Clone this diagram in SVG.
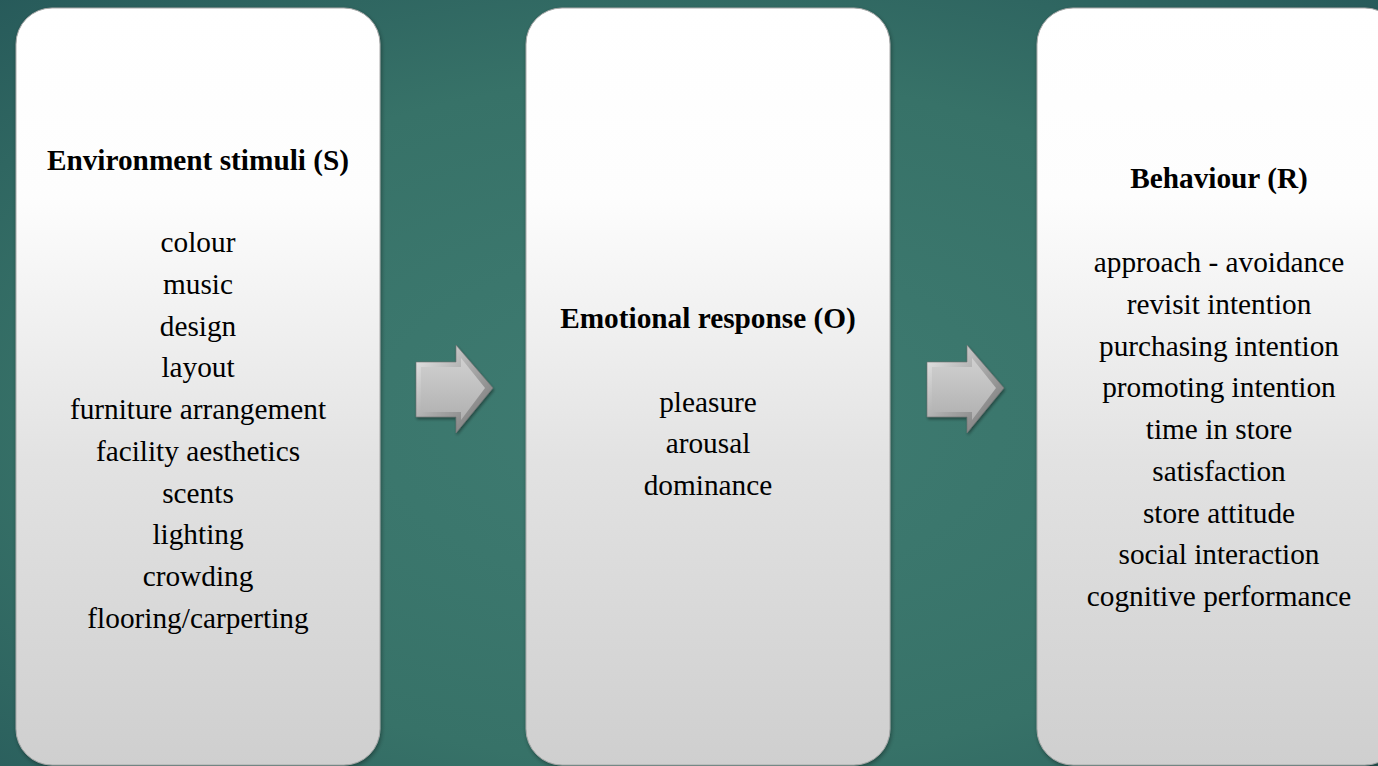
<svg xmlns="http://www.w3.org/2000/svg" width="1378" height="766" viewBox="0 0 1378 766">
  <defs>
    <radialGradient id="bg" cx="0.5" cy="0.55" r="0.75">
      <stop offset="0" stop-color="#3f7c72"/>
      <stop offset="0.6" stop-color="#377268"/>
      <stop offset="1" stop-color="#275a5a"/>
    </radialGradient>
    <linearGradient id="boxFill" x1="0" y1="0" x2="0" y2="1">
      <stop offset="0" stop-color="#ffffff"/>
      <stop offset="0.25" stop-color="#fdfdfd"/>
      <stop offset="0.6" stop-color="#e2e2e2"/>
      <stop offset="1" stop-color="#cfcfcf"/>
    </linearGradient>
    <linearGradient id="arrowFill" x1="0" y1="0" x2="1" y2="1">
      <stop offset="0" stop-color="#ececec"/>
      <stop offset="0.5" stop-color="#a8a8a8"/>
      <stop offset="1" stop-color="#6e6e6e"/>
    </linearGradient>
    <linearGradient id="arrowFace" x1="0" y1="0" x2="0" y2="1">
      <stop offset="0" stop-color="#d0d0d0"/>
      <stop offset="1" stop-color="#b0b0b0"/>
    </linearGradient>
    <filter id="shadow" x="-10%" y="-10%" width="120%" height="120%">
      <feDropShadow dx="1" dy="2" stdDeviation="2" flood-color="#000" flood-opacity="0.35"/>
    </filter>
    <filter id="ashadow" x="-20%" y="-20%" width="140%" height="140%">
      <feDropShadow dx="1" dy="2" stdDeviation="1.5" flood-color="#000" flood-opacity="0.4"/>
    </filter>
  </defs>
  <style>
    .box { fill: url(#boxFill); stroke: #a8a8a8; stroke-width: 1; filter: url(#shadow); }
    .title { font-family: "Liberation Serif", Tinos, "Times New Roman", "DejaVu Serif", serif; font-size: 29.3px; font-weight: bold; fill: #000; text-anchor: middle; }
    .item { font-family: "Liberation Serif", Tinos, "Times New Roman", "DejaVu Serif", serif; font-size: 29.3px; fill: #000; text-anchor: middle; }
    .arrow { fill: url(#arrowFill); stroke: #707070; stroke-width: 0.6; filter: url(#ashadow); }
    .face { fill: url(#arrowFace); }
  </style>
  <rect x="0" y="0" width="1378" height="766" fill="url(#bg)"/>

  <g id="node-stimuli">
    <rect class="box" x="16" y="8" width="364" height="757" rx="36" ry="36"/>
    <text class="title" x="198" y="170">Environment stimuli (S)</text>
    <text class="item" x="198" y="252">colour</text>
    <text class="item" x="198" y="293.75">music</text>
    <text class="item" x="198" y="335.5">design</text>
    <text class="item" x="198" y="377.25">layout</text>
    <text class="item" x="198" y="419">furniture arrangement</text>
    <text class="item" x="198" y="460.75">facility aesthetics</text>
    <text class="item" x="198" y="502.5">scents</text>
    <text class="item" x="198" y="544.25">lighting</text>
    <text class="item" x="198" y="586">crowding</text>
    <text class="item" x="198" y="627.75">flooring/carperting</text>
  </g>

  <g id="node-emotional">
    <rect class="box" x="526" y="8" width="364" height="757" rx="36" ry="36"/>
    <text class="title" x="708" y="328">Emotional response (O)</text>
    <text class="item" x="708" y="411.5">pleasure</text>
    <text class="item" x="708" y="453.25">arousal</text>
    <text class="item" x="708" y="495">dominance</text>
  </g>

  <g id="node-behaviour">
    <rect class="box" x="1037" y="8" width="364" height="757" rx="36" ry="36"/>
    <text class="title" x="1219" y="188">Behaviour (R)</text>
    <text class="item" x="1219" y="272">approach - avoidance</text>
    <text class="item" x="1219" y="313.75">revisit intention</text>
    <text class="item" x="1219" y="355.5">purchasing intention</text>
    <text class="item" x="1219" y="397.25">promoting intention</text>
    <text class="item" x="1219" y="439">time in store</text>
    <text class="item" x="1219" y="480.75">satisfaction</text>
    <text class="item" x="1219" y="522.5">store attitude</text>
    <text class="item" x="1219" y="564.25">social interaction</text>
    <text class="item" x="1219" y="606">cognitive performance</text>
  </g>

  <g id="connectors">
    <g id="arrow-1">
      <polygon class="arrow" points="416,362 456,362 456,345 493,388 456,433 456,417 416,417"/>
      <polygon class="face" points="421,367 461,367 461,358 485,388 461,420 461,412 421,412"/>
    </g>
    <g id="arrow-2">
      <polygon class="arrow" points="927,362 967,362 967,345 1004,388 967,433 967,417 927,417"/>
      <polygon class="face" points="932,367 972,367 972,358 996,388 972,420 972,412 932,412"/>
    </g>
  </g>
</svg>
